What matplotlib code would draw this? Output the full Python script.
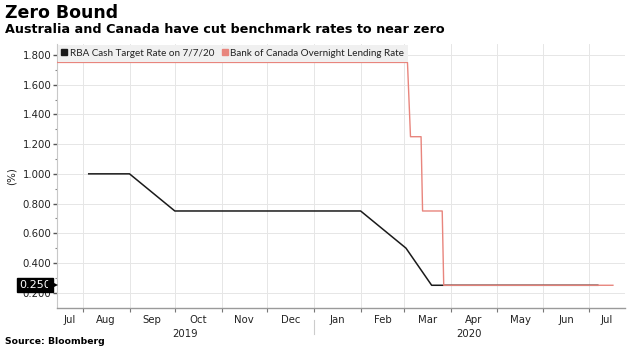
import matplotlib
matplotlib.use('Agg')
import matplotlib.pyplot as plt
from matplotlib.lines import Line2D
import matplotlib.transforms as mtransforms
import numpy as np
import datetime as dt

# ---- data ----
rba_dates = ['2019-08-05', '2019-09-01', '2019-10-01', '2020-02-01',
             '2020-03-02', '2020-03-19', '2020-07-07']
rba_values = [1.00, 1.00, 0.75, 0.75, 0.50, 0.25, 0.25]

boc_dates = ['2019-07-15', '2020-03-03', '2020-03-05', '2020-03-12',
             '2020-03-13', '2020-03-26', '2020-03-27', '2020-07-17']
boc_values = [1.75, 1.75, 1.25, 1.25, 0.75, 0.75, 0.25, 0.25]

month_labels = ['Jul', 'Aug', 'Sep', 'Oct', 'Nov', 'Dec',
                'Jan', 'Feb', 'Mar', 'Apr', 'May', 'Jun', 'Jul']
year_labels = ['2019', '2020']
y_ticks = [0.2, 0.4, 0.6, 0.8, 1.0, 1.2, 1.4, 1.6, 1.8]
last_value = 0.25

series_names = ['RBA Cash Target Rate on 7/7/20',
                'Bank of Canada Overnight Lending Rate']

# ---- style ----
RED = '#e8857d'
BLACK = '#1a1a1a'
GRID = '#e6e6e6'
SPINE = '#9a9a9a'

def to_dt(lst):
    return [dt.datetime.strptime(s, '%Y-%m-%d') for s in lst]

xmin = dt.datetime(2019, 7, 15)
xmax = dt.datetime(2020, 7, 25)

fig = plt.figure(figsize=(6.3, 3.5), dpi=100)
ax = fig.add_axes([57 / 630, 1 - 308 / 350, (625 - 57) / 630, (308 - 44) / 350])

ax.plot(to_dt(rba_dates), rba_values, color=BLACK, lw=1.1, zorder=3)
ax.plot(to_dt(boc_dates), boc_values, color=RED, lw=1.0, zorder=4)

ax.set_xlim(xmin, xmax)
ax.set_ylim(0.097, 1.874)

# y axis
ax.set_yticks(y_ticks)
ax.set_yticklabels(['%.3f' % v for v in y_ticks])
ax.set_yticks(np.arange(0.3, 1.8, 0.2), minor=True)
ax.tick_params(axis='y', which='major', length=3, width=1, color='#555555',
               labelsize=7.3, pad=1, labelcolor='#222222')
ax.tick_params(axis='y', which='minor', length=1.5, width=0.8, color='#888888')
ax.set_ylabel('(%)', fontsize=7.5, labelpad=4, color='#222222')

# x axis: ticks at month starts, labels centred in visible month span
month_starts = [dt.datetime(2019 + (7 + i - 1) // 12, (7 + i - 1) % 12 + 1, 1)
                for i in range(14)]
major = [m for m in month_starts if xmin < m < xmax]
ax.set_xticks(major)
ax.set_xticklabels([''] * len(major))
ax.tick_params(axis='x', which='major', length=3, width=0.8, color='#777777')

lab_pos = []
for i in range(13):
    a = max(month_starts[i], xmin)
    b = min(month_starts[i + 1], xmax)
    lab_pos.append(a + (b - a) / 2)
trans = mtransforms.blended_transform_factory(ax.transData, ax.transAxes)
for p, lab in zip(lab_pos, month_labels):
    ax.text(p, -0.028, lab, transform=trans, ha='center', va='top',
            fontsize=7.3, color='#222222')

jan = dt.datetime(2020, 1, 1)
year_pos = [xmin + (jan - xmin) / 2, jan + (xmax - jan) / 2]
for p, lab in zip(year_pos, year_labels):
    ax.text(p, -0.078, lab, transform=trans, ha='center', va='top',
            fontsize=7.3, color='#222222')
ax.plot([jan, jan], [-0.045, -0.097], transform=trans, color='#cccccc',
        lw=0.8, clip_on=False)

# grid & spines
ax.grid(True, which='major', color=GRID, lw=0.7)
ax.set_axisbelow(True)
for s in ['top', 'right']:
    ax.spines[s].set_visible(False)
ax.spines['left'].set_color('#c8c8c8')
ax.spines['bottom'].set_color(SPINE)
ax.spines['bottom'].set_linewidth(1.0)

# last value label
ytrans = mtransforms.blended_transform_factory(ax.transAxes, ax.transData)
ax.text(-0.011, last_value, '%.3f' % last_value, transform=ytrans,
        ha='right', va='center', fontsize=8, color='white', zorder=10,
        bbox=dict(boxstyle='square,pad=0.2', facecolor='black',
                  edgecolor='black'), clip_on=False)
ax.plot([-0.0075], [last_value], marker='>', markersize=7, color='black',
        transform=ytrans, clip_on=False, zorder=11, markeredgewidth=0)

# legend
handles = [Line2D([], [], marker='s', color=BLACK, ls='none', markersize=4.5),
           Line2D([], [], marker='s', color=RED, ls='none', markersize=4.5)]
leg = ax.legend(handles, series_names, loc='upper left', ncol=2,
                bbox_to_anchor=(0.0, 1.0), borderaxespad=0.1,
                prop={'family': 'Lato', 'size': 7.1}, frameon=True,
                facecolor='#f0f0f0', edgecolor='none', fancybox=False,
                framealpha=1, handlelength=0.5, handletextpad=0.3,
                columnspacing=0.8, borderpad=0.4)
for t in leg.get_texts():
    t.set_color('#222222')

# titles
fig.text(5 / 630, 1 - 18 / 350, 'Zero Bound', ha='left', va='baseline',
         fontsize=12.5, fontweight='bold', family='DejaVu Sans')
fig.text(5 / 630, 1 - 33 / 350,
         'Australia and Canada have cut benchmark rates to near zero',
         ha='left', va='baseline', fontsize=9.15, fontweight='bold',
         family='DejaVu Sans')
fig.text(5 / 630, 1 - 344 / 350, 'Source: Bloomberg', ha='left',
         va='baseline', fontsize=6.7, fontweight='bold')

fig.savefig('out.png', dpi=100)
